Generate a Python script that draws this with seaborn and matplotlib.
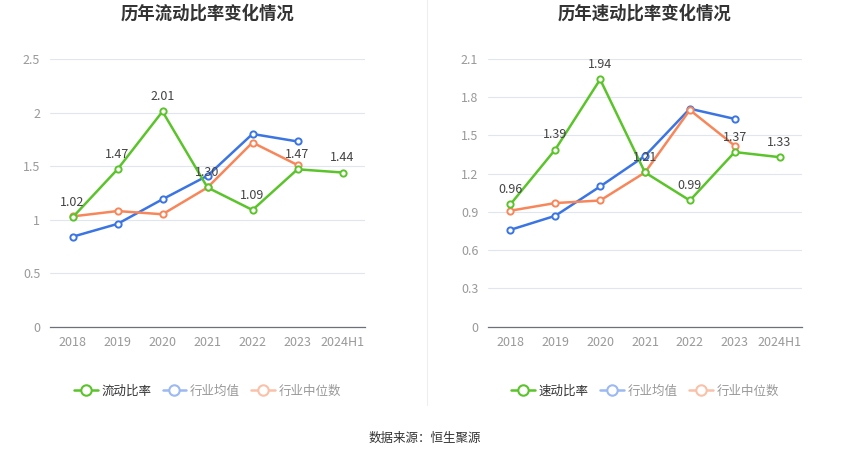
import matplotlib
matplotlib.use('Agg')
import matplotlib.pyplot as plt
from matplotlib.lines import Line2D
import numpy as np
import pandas as pd
import seaborn as sns

years = ['2018', '2019', '2020', '2021', '2022', '2023', '2024H1']

current_ratio = [1.02, 1.47, 2.01, 1.30, 1.09, 1.47, 1.44]
current_mean = [0.84, 0.96, 1.19, 1.41, 1.80, 1.73, np.nan]
current_median = [1.03, 1.08, 1.05, 1.30, 1.72, 1.51, np.nan]

quick_ratio = [0.96, 1.39, 1.94, 1.21, 0.99, 1.37, 1.33]
quick_mean = [0.76, 0.87, 1.10, 1.34, 1.71, 1.63, np.nan]
quick_median = [0.91, 0.97, 0.99, 1.21, 1.70, 1.42, np.nan]

green = '#5ac42a'
blue = '#3b74e3'
orange = '#f7875a'

sns.set_style('white')
plt.rcParams['font.family'] = ['Noto Sans CJK SC', 'DejaVu Sans']

fig = plt.figure(figsize=(8.5, 4.59), dpi=100)


def draw_panel(rect, title, main_name, main, mean, median, yticks):
    ax = fig.add_axes(rect)
    df = pd.DataFrame({'x': np.arange(len(years)), 'main': main,
                       'mean': mean, 'median': median})
    for col, color in [('mean', blue), ('median', orange), ('main', green)]:
        d = df.dropna(subset=[col])
        sns.lineplot(data=d, x='x', y=col, ax=ax, color=color, linewidth=1.8,
                     marker='o', markersize=4.5, markerfacecolor='white',
                     markeredgecolor=color, markeredgewidth=1.4, zorder=3)
    for i, v in enumerate(main):
        ax.annotate(f'{v:.2f}', (i, v), xytext=(0, 6), textcoords='offset points',
                    ha='center', va='bottom', fontsize=9, color='#444444', zorder=5)
    ax.set_xlim(-0.5, len(years) - 0.5)
    ax.set_ylim(yticks[0], yticks[-1])
    ax.set_yticks(yticks)
    ax.set_yticklabels([f'{t:g}' for t in yticks])
    ax.set_xticks(range(len(years)))
    ax.set_xticklabels(years)
    ax.set_xlabel('')
    ax.set_ylabel('')
    ax.grid(axis='y', color='#e0e6f1', linewidth=0.8)
    ax.set_axisbelow(True)
    for s in ['top', 'right', 'left']:
        ax.spines[s].set_visible(False)
    ax.spines['bottom'].set_color('#6e7079')
    ax.spines['bottom'].set_linewidth(0.9)
    ax.tick_params(axis='x', colors='#6e7079', labelcolor='#999999', labelsize=9,
                   length=3.5, width=0.8, direction='out', pad=3)
    ax.tick_params(axis='y', length=0, labelcolor='#999999', labelsize=9, pad=7)
    for line in ax.lines:
        line.set_clip_on(False)

    cx = rect[0] + rect[2] / 2
    fig.text(cx, 1 - 14 / 459, title, ha='center', va='center', fontsize=12.5,
             fontweight='bold', color='#333333')

    handles = [
        Line2D([], [], color=green, marker='o', markersize=7.5, markerfacecolor='white',
               markeredgewidth=1.5, linewidth=1.8),
        Line2D([], [], color='#9cb9f1', marker='o', markersize=7.5, markerfacecolor='white',
               markeredgewidth=1.5, linewidth=1.8),
        Line2D([], [], color='#f9c1a9', marker='o', markersize=7.5, markerfacecolor='white',
               markeredgewidth=1.5, linewidth=1.8),
    ]
    leg = fig.legend(handles, [main_name, '行业均值', '行业中位数'], loc='center',
                     bbox_to_anchor=(cx, 1 - 391 / 459), ncol=3, frameon=False,
                     fontsize=9, handlelength=1.9, handletextpad=0.3,
                     columnspacing=0.9)
    texts = leg.get_texts()
    texts[0].set_color('#333333')
    texts[1].set_color('#999999')
    texts[2].set_color('#999999')
    return ax


draw_panel([50 / 850, 1 - 326.7 / 459, 315 / 850, 267.7 / 459],
           '历年流动比率变化情况', '流动比率',
           current_ratio, current_mean, current_median,
           [0, 0.5, 1, 1.5, 2, 2.5])
draw_panel([488 / 850, 1 - 326.7 / 459, 314 / 850, 267.7 / 459],
           '历年速动比率变化情况', '速动比率',
           quick_ratio, quick_mean, quick_median,
           [0, 0.3, 0.6, 0.9, 1.2, 1.5, 1.8, 2.1])

fig.add_artist(Line2D([427 / 850, 427 / 850], [1 - 405 / 459, 1.0],
                      color='#eeeeee', linewidth=0.8))
fig.text(0.5, 1 - 438 / 459, '数据来源：恒生聚源', ha='center', va='center',
         fontsize=9, color='#333333')

fig.savefig('out.png', dpi=100)
